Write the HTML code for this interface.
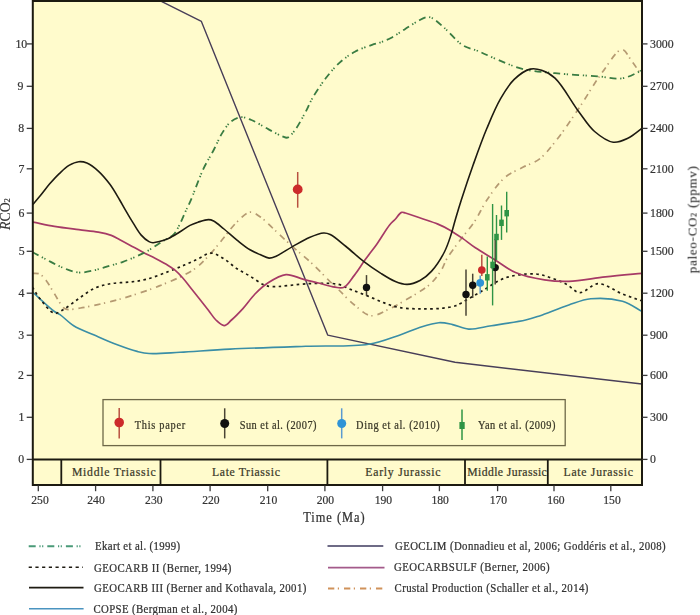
<!DOCTYPE html>
<html><head><meta charset="utf-8"><style>
html,body{margin:0;padding:0;background:#fff;width:700px;height:615px;overflow:hidden}
svg{display:block;filter:blur(0.35px)}
</style></head><body>
<svg width="700" height="615" viewBox="0 0 700 615">
<defs><clipPath id="cp"><rect x="33" y="1.7" width="608.5" height="456.8"/></clipPath></defs>
<rect x="32.2" y="0.8" width="610" height="484.2" fill="#fffbcc"/>
<g clip-path="url(#cp)" fill="none" stroke-linejoin="round">
<path d="M158.6 0.0 L201.4 21.4 L327.7 335.1 L455.0 362.3 L642.0 384.0" stroke="#483e58" stroke-width="1.4"/>
<path d="M32.4 292.0 C39.7 298.5 49.3 307.9 54.4 311.5 C56.8 313.2 57.8 313.1 60.0 314.6 C63.7 317.1 68.4 322.4 73.7 325.7 C79.7 329.4 87.3 332.0 94.3 335.1 C101.6 338.3 109.3 341.8 116.6 344.6 C123.5 347.2 131.1 349.9 137.1 351.4 C141.6 352.5 144.1 353.2 149.1 353.5 C157.0 354.0 168.5 352.9 180.0 352.3 C194.7 351.5 211.6 350.0 230.0 349.1 C252.6 348.0 281.6 347.1 305.7 346.3 C327.6 345.5 351.4 347.1 368.6 344.3 C381.0 342.3 391.0 337.9 400.0 334.9 C407.0 332.5 412.0 330.0 418.3 328.0 C424.9 325.9 432.7 323.1 438.9 322.7 C443.9 322.4 447.9 323.6 452.6 324.6 C457.8 325.7 462.8 328.7 468.6 329.1 C475.5 329.5 483.0 327.0 491.4 325.7 C501.7 324.1 516.9 322.0 525.7 320.0 C531.4 318.7 534.1 317.7 539.5 315.9 C547.5 313.2 559.7 307.9 568.8 304.9 C576.6 302.4 582.7 299.6 590.8 298.8 C600.3 297.9 613.3 298.7 622.5 301.3 C630.3 303.6 636.2 308.4 643.0 312.0" stroke="#3a8ea6" stroke-width="1.6" stroke-dasharray=""/>
<path d="M32.4 273.3 C34.9 273.6 37.6 273.0 39.8 274.1 C42.3 275.3 44.2 278.0 46.3 280.7 C49.0 284.2 51.6 289.3 54.4 293.7 C57.3 298.3 60.8 305.4 63.4 307.7 C64.7 308.8 65.3 309.1 66.9 309.4 C70.2 310.0 76.4 308.7 82.3 307.7 C90.5 306.4 102.8 303.6 111.4 301.4 C118.3 299.7 123.1 298.3 130.0 296.1 C138.7 293.3 149.2 290.0 159.3 285.9 C170.5 281.3 185.0 275.6 194.1 269.3 C201.2 264.4 205.9 258.6 211.0 253.1 C215.8 248.0 219.7 242.7 224.0 237.5 C228.3 232.3 232.4 226.3 237.0 221.9 C241.1 218.0 245.8 212.6 250.0 212.1 C253.4 211.7 256.6 214.5 260.0 216.7 C264.3 219.5 268.3 224.0 273.0 228.4 C278.9 233.8 285.9 240.7 292.5 246.6 C298.9 252.4 305.6 257.5 312.0 263.5 C318.6 269.7 326.5 278.2 331.5 283.0 C334.5 285.9 336.0 287.2 338.9 290.0 C343.1 294.1 349.0 300.6 354.5 305.0 C359.7 309.1 365.2 315.0 370.9 315.7 C376.5 316.4 382.8 311.9 388.6 309.3 C394.5 306.7 400.3 303.1 405.7 300.0 C410.7 297.1 415.6 294.4 420.0 291.4 C424.1 288.7 427.9 286.3 431.4 282.9 C435.1 279.3 438.7 274.3 441.4 270.0 C443.8 266.2 444.5 262.7 447.0 258.5 C450.3 253.0 455.5 246.4 460.0 240.3 C464.8 233.9 470.5 227.6 475.0 220.8 C479.4 214.1 482.2 206.9 486.9 200.0 C492.1 192.4 498.4 182.9 505.1 177.3 C510.7 172.5 517.4 170.2 523.3 167.1 C528.8 164.2 534.3 162.9 539.3 159.1 C545.0 154.8 549.4 148.9 555.0 142.0 C562.4 132.8 571.2 119.7 579.0 108.1 C587.0 96.3 594.7 82.4 602.5 72.0 C609.0 63.4 616.7 49.4 622.0 49.5 C625.8 49.5 628.4 56.9 631.7 61.2 C635.4 66.0 639.2 71.7 643.0 77.0" stroke="#b59a72" stroke-width="1.7" stroke-dasharray="6.3 3.5 1.3 5"/>
<path d="M32.4 287.2 C34.9 291.0 36.7 294.6 39.8 298.5 C43.7 303.3 49.7 312.3 54.4 313.2 C57.7 313.9 60.6 311.0 64.1 309.1 C68.6 306.6 73.7 302.0 78.8 298.5 C84.0 294.9 89.4 290.5 95.0 288.0 C100.2 285.7 105.6 284.6 111.3 283.6 C117.3 282.5 124.0 282.8 130.0 282.0 C135.7 281.3 140.6 280.8 146.4 279.3 C153.3 277.5 161.7 274.1 168.5 271.5 C174.4 269.3 179.8 267.0 185.0 264.8 C189.6 262.8 193.7 260.9 198.0 258.9 C202.3 257.0 206.7 253.1 211.0 253.1 C215.3 253.1 219.8 256.4 224.0 258.9 C228.5 261.5 232.6 265.8 237.0 268.7 C241.2 271.5 245.7 273.5 250.0 276.1 C254.5 278.8 259.4 282.9 263.4 284.6 C266.2 285.8 267.6 286.3 271.2 286.6 C278.9 287.3 296.7 284.1 308.3 283.7 C318.6 283.4 329.9 282.6 337.6 284.2 C342.9 285.3 346.0 287.6 350.6 289.4 C355.9 291.5 361.9 293.7 367.5 295.9 C373.1 298.2 378.9 300.9 384.3 302.9 C389.2 304.7 393.3 306.4 398.6 307.4 C405.0 308.6 412.9 308.8 420.0 308.9 C427.1 309.0 435.0 309.0 441.4 308.3 C446.7 307.8 452.1 306.9 455.7 305.7 C458.1 304.9 459.0 304.2 461.4 302.9 C465.9 300.5 473.7 295.9 480.5 292.0 C488.2 287.6 496.1 281.0 505.0 278.0 C514.1 274.9 526.1 273.5 534.6 273.9 C541.1 274.2 546.3 276.3 551.7 278.1 C556.9 279.8 561.7 281.8 566.4 284.2 C571.1 286.6 574.9 292.4 579.8 292.7 C585.3 293.0 591.5 283.9 598.1 283.7 C605.6 283.5 614.7 291.0 622.5 294.0 C629.6 296.8 636.2 298.9 643.0 301.3" stroke="#1e1b12" stroke-width="1.7" stroke-dasharray="2.6 3.4"/>
<path d="M32.9 222.2 C40.1 223.6 47.0 225.2 54.4 226.4 C62.3 227.7 71.1 228.7 78.8 229.7 C85.7 230.6 92.5 231.0 98.3 232.1 C103.1 233.0 107.5 234.0 111.3 235.4 C114.4 236.5 116.6 237.9 119.4 239.4 C122.6 241.1 125.9 242.9 129.5 244.9 C133.6 247.1 138.1 249.7 142.5 252.0 C146.8 254.3 151.2 256.2 155.5 258.5 C159.9 260.8 165.0 263.5 168.5 265.7 C171.1 267.3 172.8 268.4 175.0 270.2 C177.6 272.4 180.3 275.2 182.8 278.0 C185.3 280.8 187.0 283.3 190.0 287.0 C194.8 293.0 203.8 304.4 208.6 310.5 C211.6 314.4 213.2 317.4 215.9 320.0 C218.4 322.4 221.5 325.7 224.2 325.6 C226.7 325.5 228.9 322.3 231.5 320.0 C235.0 317.0 239.1 312.7 242.9 308.6 C247.0 304.1 250.7 298.4 255.0 294.0 C259.0 289.9 262.9 286.1 267.8 283.0 C273.1 279.6 280.0 275.1 286.0 274.6 C291.6 274.1 297.4 277.7 302.9 279.1 C308.2 280.5 313.2 281.7 318.5 283.0 C323.9 284.4 330.3 286.6 335.0 287.2 C338.5 287.6 341.2 288.5 344.1 287.2 C347.9 285.5 351.1 279.4 354.5 275.1 C358.1 270.5 361.3 265.1 364.9 260.1 C368.6 254.9 372.7 250.0 376.6 244.5 C380.9 238.4 386.0 229.4 389.6 225.0 C391.6 222.5 393.1 221.5 395.0 219.5 C397.1 217.3 399.4 213.1 401.5 212.4 C402.8 211.9 403.7 212.6 405.4 213.0 C408.9 213.8 415.7 216.4 421.0 218.2 C426.5 220.1 432.8 222.0 437.9 224.1 C442.2 225.9 445.7 227.6 449.6 229.9 C453.9 232.4 458.4 235.5 462.6 238.4 C466.8 241.3 470.3 244.4 475.0 247.5 C480.7 251.3 487.9 255.4 494.5 259.5 C501.4 263.7 507.7 269.2 515.5 272.5 C524.1 276.2 535.1 278.4 544.4 279.8 C552.8 281.1 559.9 281.6 568.8 281.3 C579.8 281.0 593.1 278.2 605.4 276.9 C617.8 275.5 630.5 274.4 643.0 273.2" stroke="#a63a66" stroke-width="1.7"/>
<path d="M32.4 252.2 C37.0 254.6 41.5 257.0 46.3 259.5 C51.5 262.2 57.0 265.4 62.5 267.6 C67.8 269.7 73.3 272.1 78.8 272.5 C84.2 272.9 89.7 271.3 95.0 270.1 C100.1 269.0 105.2 267.1 110.0 265.7 C114.5 264.4 118.7 263.3 123.0 261.8 C127.4 260.3 131.7 258.5 136.0 256.6 C140.4 254.6 144.7 252.5 149.0 250.1 C153.4 247.6 157.8 244.3 162.0 241.6 C166.0 239.1 170.6 237.6 173.7 234.5 C176.7 231.5 178.2 227.2 180.2 223.4 C182.1 219.6 183.7 215.4 185.4 211.7 C187.0 208.2 188.3 206.0 190.2 201.7 C193.6 194.0 199.0 178.2 203.4 168.9 C206.8 161.6 210.5 156.2 213.7 150.0 C216.7 144.2 219.2 137.9 222.3 132.9 C225.0 128.6 227.5 124.4 230.9 121.7 C233.9 119.3 237.6 117.4 241.1 117.1 C244.5 116.8 247.6 118.5 251.4 120.0 C256.5 122.1 263.2 126.5 268.6 129.4 C273.4 131.9 278.8 134.9 282.3 136.3 C284.4 137.1 285.7 138.1 287.4 137.7 C289.7 137.1 291.9 134.1 294.3 131.1 C298.1 126.3 303.1 116.5 306.3 110.6 C308.7 106.2 309.5 103.3 312.0 98.9 C315.4 92.9 320.9 84.5 325.7 78.3 C330.1 72.6 334.4 67.4 339.4 62.9 C344.2 58.6 349.4 54.7 354.9 51.7 C360.3 48.7 367.2 46.6 372.0 44.9 C375.3 43.7 377.6 43.4 380.6 42.3 C383.9 41.1 387.3 39.9 390.9 38.0 C395.2 35.8 400.0 32.3 404.6 29.4 C409.2 26.6 414.2 23.1 418.3 20.9 C421.4 19.2 424.4 17.4 426.9 17.1 C428.8 16.9 430.0 17.1 432.0 18.0 C435.6 19.7 441.0 24.9 445.7 29.1 C451.2 33.9 456.9 41.7 462.9 45.4 C467.9 48.5 472.9 48.9 478.3 51.1 C484.6 53.7 491.2 57.1 498.3 60.0 C506.1 63.2 514.3 66.9 523.3 69.1 C533.1 71.5 543.6 72.0 555.0 73.2 C568.3 74.6 586.2 75.4 598.5 76.4 C607.5 77.1 614.5 79.5 622.0 78.4 C629.3 77.3 636.0 72.8 643.0 70.0" stroke="#3a7c42" stroke-width="1.8" stroke-dasharray="7 3.7 1.3 1.5 1.3 4"/>
<path d="M32.9 204.5 C35.2 201.8 37.3 199.3 39.8 196.3 C42.8 192.7 46.2 188.0 49.5 184.1 C52.7 180.4 55.9 176.8 59.3 173.6 C62.5 170.6 65.6 167.4 69.0 165.4 C72.1 163.6 75.6 162.0 78.8 161.7 C81.6 161.4 84.1 161.9 86.9 163.0 C90.5 164.5 94.7 167.8 98.3 171.1 C102.3 174.7 106.2 179.4 109.7 184.1 C113.3 188.9 116.6 194.8 119.4 199.5 C121.7 203.4 123.4 206.6 125.6 210.4 C128.0 214.6 130.7 219.2 133.4 223.4 C136.0 227.4 138.4 231.9 141.2 235.1 C143.6 237.8 146.7 240.4 149.0 241.6 C150.4 242.4 151.4 242.6 152.9 242.7 C154.8 242.8 157.1 242.2 159.4 241.6 C162.2 240.9 165.4 239.8 168.5 238.4 C171.9 236.8 175.4 234.6 178.9 232.5 C182.6 230.3 186.5 227.2 190.0 225.4 C192.8 224.0 195.1 223.1 198.0 222.2 C201.2 221.2 205.5 219.6 208.4 219.6 C210.4 219.6 211.7 220.0 213.6 221.0 C216.6 222.5 220.4 226.1 224.0 229.0 C228.1 232.4 232.6 236.6 237.0 240.1 C241.3 243.5 245.8 247.3 250.0 249.8 C253.4 251.9 256.7 253.2 260.0 254.6 C263.1 255.9 266.3 257.9 269.1 258.1 C271.4 258.2 273.0 257.5 275.6 256.4 C280.0 254.6 286.8 249.8 292.5 246.6 C298.1 243.5 303.9 239.8 309.4 237.5 C314.3 235.4 319.8 233.2 323.7 233.0 C326.3 232.9 327.7 233.3 330.2 234.5 C334.5 236.5 340.6 242.2 346.0 246.5 C351.8 251.1 357.7 256.9 363.6 261.4 C369.2 265.7 375.0 269.7 380.5 273.1 C385.4 276.2 390.1 279.3 394.8 281.2 C398.9 282.9 403.0 284.5 407.1 284.4 C411.4 284.3 416.0 282.6 420.0 280.5 C424.1 278.3 427.8 275.4 431.4 271.4 C436.0 266.4 441.1 258.4 444.4 252.0 C447.3 246.3 449.0 240.9 450.9 235.1 C452.9 229.2 454.3 222.8 456.1 216.9 C457.8 211.2 459.2 206.6 461.3 200.0 C464.4 190.4 469.0 176.6 473.2 164.8 C477.5 152.7 482.1 139.7 486.9 128.3 C491.3 117.8 495.6 107.3 500.6 98.7 C504.8 91.4 508.9 84.5 514.2 79.4 C518.9 74.9 525.1 70.3 530.2 69.1 C534.1 68.2 537.8 69.0 541.6 70.3 C546.0 71.8 550.4 73.9 555.0 78.2 C562.6 85.1 571.7 102.4 579.0 112.0 C584.6 119.5 588.6 126.4 594.6 131.5 C600.1 136.2 607.2 141.4 613.2 142.2 C618.2 142.9 623.1 140.5 627.8 138.3 C633.0 135.9 637.9 131.2 643.0 127.6" stroke="#1e1b12" stroke-width="1.6"/>
</g>
<line x1="297.7" y1="172.0" x2="297.7" y2="207.7" stroke="#b85040" stroke-width="1.5"/>
<circle cx="297.7" cy="189.4" r="4.9" fill="#cc2b2b"/>
<line x1="366.5" y1="275.1" x2="366.5" y2="295.9" stroke="#4a4434" stroke-width="1.5"/>
<circle cx="366.5" cy="287.4" r="3.7" fill="#111111"/>
<line x1="466.0" y1="269.4" x2="466.0" y2="315.7" stroke="#4a4434" stroke-width="1.5"/>
<circle cx="466.0" cy="294.4" r="3.7" fill="#111111"/>
<line x1="472.7" y1="273.7" x2="472.7" y2="298.0" stroke="#4a4434" stroke-width="1.5"/>
<circle cx="472.7" cy="285.2" r="3.7" fill="#111111"/>
<line x1="481.8" y1="254.8" x2="481.8" y2="276.0" stroke="#b85040" stroke-width="1.5"/>
<circle cx="481.8" cy="270.0" r="3.8" fill="#cc2b2b"/>
<line x1="480.2" y1="275.5" x2="480.2" y2="293.8" stroke="#5a9ad0" stroke-width="1.5"/>
<circle cx="480.2" cy="282.8" r="3.9" fill="#2f93d6"/>
<line x1="487.3" y1="256.6" x2="487.3" y2="290.7" stroke="#2f9445" stroke-width="1.4"/>
<rect x="485.0" y="274.1" width="4.6" height="6.4" fill="#2f9445"/>
<line x1="495.2" y1="239.0" x2="495.2" y2="284.6" stroke="#4a4434" stroke-width="1.5"/>
<circle cx="495.2" cy="267.6" r="3.7" fill="#111111"/>
<line x1="492.6" y1="204.0" x2="492.6" y2="305.4" stroke="#2f9445" stroke-width="1.4"/>
<rect x="490.3" y="261.7" width="4.6" height="6.4" fill="#2f9445"/>
<line x1="496.5" y1="215.0" x2="496.5" y2="260.0" stroke="#2f9445" stroke-width="1.4"/>
<rect x="494.2" y="233.8" width="4.6" height="6.4" fill="#2f9445"/>
<line x1="501.5" y1="205.5" x2="501.5" y2="239.9" stroke="#2f9445" stroke-width="1.4"/>
<rect x="499.2" y="219.6" width="4.6" height="6.4" fill="#2f9445"/>
<line x1="506.7" y1="191.7" x2="506.7" y2="232.6" stroke="#2f9445" stroke-width="1.4"/>
<rect x="504.4" y="210.0" width="4.6" height="6.4" fill="#2f9445"/>
<rect x="32.8" y="1" width="609.2" height="484" fill="none" stroke="#1c1a10" stroke-width="2"/>
<line x1="32" y1="459.5" x2="642.3" y2="459.5" stroke="#1c1a10" stroke-width="2"/>
<line x1="61.3" y1="459.5" x2="61.3" y2="485" stroke="#1c1a10" stroke-width="1.8"/>
<line x1="160.5" y1="459.5" x2="160.5" y2="485" stroke="#1c1a10" stroke-width="1.8"/>
<line x1="327.4" y1="459.5" x2="327.4" y2="485" stroke="#1c1a10" stroke-width="1.8"/>
<line x1="465.0" y1="459.5" x2="465.0" y2="485" stroke="#1c1a10" stroke-width="1.8"/>
<line x1="547.8" y1="459.5" x2="547.8" y2="485" stroke="#1c1a10" stroke-width="1.8"/>
<text transform="translate(71.9 476.4) scale(0.900 1)" font-family='"Liberation Serif", serif' font-size="13" fill="#3a3828" stroke="#3a3828" stroke-width="0.25" textLength="93.0" lengthAdjust="spacing">Middle Triassic</text>
<text transform="translate(212.0 476.4) scale(0.900 1)" font-family='"Liberation Serif", serif' font-size="13" fill="#3a3828" stroke="#3a3828" stroke-width="0.25" textLength="75.4" lengthAdjust="spacing">Late Triassic</text>
<text transform="translate(365.3 476.4) scale(0.900 1)" font-family='"Liberation Serif", serif' font-size="13" fill="#3a3828" stroke="#3a3828" stroke-width="0.25" textLength="83.6" lengthAdjust="spacing">Early Jurassic</text>
<text transform="translate(467.2 476.4) scale(0.900 1)" font-family='"Liberation Serif", serif' font-size="13" fill="#3a3828" stroke="#3a3828" stroke-width="0.25" textLength="88.4" lengthAdjust="spacing">Middle Jurassic</text>
<text transform="translate(563.6 476.4) scale(0.900 1)" font-family='"Liberation Serif", serif' font-size="13" fill="#3a3828" stroke="#3a3828" stroke-width="0.25" textLength="77.0" lengthAdjust="spacing">Late Jurassic</text>
<line x1="26.7" y1="459.4" x2="32" y2="459.4" stroke="#3a3a3a" stroke-width="1.3"/>
<text transform="translate(18.3 463.4) scale(1.000 1)" font-family='"Liberation Serif", serif' font-size="11.8" fill="#333333" stroke="#333333" stroke-width="0.2">0</text>
<line x1="642.3" y1="459.4" x2="647.5" y2="459.4" stroke="#3a3a3a" stroke-width="1.3"/>
<text transform="translate(650.0 463.4) scale(1.000 1)" font-family='"Liberation Serif", serif' font-size="11.8" fill="#333333" stroke="#333333" stroke-width="0.2">0</text>
<line x1="26.7" y1="417.3" x2="32" y2="417.3" stroke="#3a3a3a" stroke-width="1.3"/>
<text transform="translate(18.5 421.3) scale(1.000 1)" font-family='"Liberation Serif", serif' font-size="11.8" fill="#333333" stroke="#333333" stroke-width="0.2">1</text>
<line x1="642.3" y1="417.3" x2="647.5" y2="417.3" stroke="#3a3a3a" stroke-width="1.3"/>
<text transform="translate(650.0 421.3) scale(1.000 1)" font-family='"Liberation Serif", serif' font-size="11.8" fill="#333333" stroke="#333333" stroke-width="0.2">300</text>
<line x1="26.7" y1="375.4" x2="32" y2="375.4" stroke="#3a3a3a" stroke-width="1.3"/>
<text transform="translate(18.0 379.4) scale(1.000 1)" font-family='"Liberation Serif", serif' font-size="11.8" fill="#333333" stroke="#333333" stroke-width="0.2">2</text>
<line x1="642.3" y1="375.4" x2="647.5" y2="375.4" stroke="#3a3a3a" stroke-width="1.3"/>
<text transform="translate(650.0 379.4) scale(1.000 1)" font-family='"Liberation Serif", serif' font-size="11.8" fill="#333333" stroke="#333333" stroke-width="0.2">600</text>
<line x1="26.7" y1="335.2" x2="32" y2="335.2" stroke="#3a3a3a" stroke-width="1.3"/>
<text transform="translate(18.3 339.2) scale(1.000 1)" font-family='"Liberation Serif", serif' font-size="11.8" fill="#333333" stroke="#333333" stroke-width="0.2">3</text>
<line x1="642.3" y1="335.2" x2="647.5" y2="335.2" stroke="#3a3a3a" stroke-width="1.3"/>
<text transform="translate(650.0 339.2) scale(1.000 1)" font-family='"Liberation Serif", serif' font-size="11.8" fill="#333333" stroke="#333333" stroke-width="0.2">900</text>
<line x1="26.7" y1="293.2" x2="32" y2="293.2" stroke="#3a3a3a" stroke-width="1.3"/>
<text transform="translate(18.5 297.2) scale(1.000 1)" font-family='"Liberation Serif", serif' font-size="11.8" fill="#333333" stroke="#333333" stroke-width="0.2">4</text>
<line x1="642.3" y1="293.2" x2="647.5" y2="293.2" stroke="#3a3a3a" stroke-width="1.3"/>
<text transform="translate(650.0 297.2) scale(1.000 1)" font-family='"Liberation Serif", serif' font-size="11.8" fill="#333333" stroke="#333333" stroke-width="0.2">1200</text>
<line x1="26.7" y1="251.3" x2="32" y2="251.3" stroke="#3a3a3a" stroke-width="1.3"/>
<text transform="translate(18.8 255.3) scale(1.000 1)" font-family='"Liberation Serif", serif' font-size="11.8" fill="#333333" stroke="#333333" stroke-width="0.2">5</text>
<line x1="642.3" y1="251.3" x2="647.5" y2="251.3" stroke="#3a3a3a" stroke-width="1.3"/>
<text transform="translate(650.0 255.3) scale(1.000 1)" font-family='"Liberation Serif", serif' font-size="11.8" fill="#333333" stroke="#333333" stroke-width="0.2">1500</text>
<line x1="26.7" y1="213.1" x2="32" y2="213.1" stroke="#3a3a3a" stroke-width="1.3"/>
<text transform="translate(18.5 217.1) scale(1.000 1)" font-family='"Liberation Serif", serif' font-size="11.8" fill="#333333" stroke="#333333" stroke-width="0.2">6</text>
<line x1="642.3" y1="213.1" x2="647.5" y2="213.1" stroke="#3a3a3a" stroke-width="1.3"/>
<text transform="translate(650.0 217.1) scale(1.000 1)" font-family='"Liberation Serif", serif' font-size="11.8" fill="#333333" stroke="#333333" stroke-width="0.2">1800</text>
<line x1="26.7" y1="168.8" x2="32" y2="168.8" stroke="#3a3a3a" stroke-width="1.3"/>
<text transform="translate(18.5 172.8) scale(1.000 1)" font-family='"Liberation Serif", serif' font-size="11.8" fill="#333333" stroke="#333333" stroke-width="0.2">7</text>
<line x1="642.3" y1="168.8" x2="647.5" y2="168.8" stroke="#3a3a3a" stroke-width="1.3"/>
<text transform="translate(650.0 172.8) scale(1.000 1)" font-family='"Liberation Serif", serif' font-size="11.8" fill="#333333" stroke="#333333" stroke-width="0.2">2100</text>
<line x1="26.7" y1="128.4" x2="32" y2="128.4" stroke="#3a3a3a" stroke-width="1.3"/>
<text transform="translate(18.3 132.4) scale(1.000 1)" font-family='"Liberation Serif", serif' font-size="11.8" fill="#333333" stroke="#333333" stroke-width="0.2">8</text>
<line x1="642.3" y1="128.4" x2="647.5" y2="128.4" stroke="#3a3a3a" stroke-width="1.3"/>
<text transform="translate(650.0 132.4) scale(1.000 1)" font-family='"Liberation Serif", serif' font-size="11.8" fill="#333333" stroke="#333333" stroke-width="0.2">2400</text>
<line x1="26.7" y1="86.3" x2="32" y2="86.3" stroke="#3a3a3a" stroke-width="1.3"/>
<text transform="translate(17.5 90.3) scale(1.000 1)" font-family='"Liberation Serif", serif' font-size="11.8" fill="#333333" stroke="#333333" stroke-width="0.2">9</text>
<line x1="642.3" y1="86.3" x2="647.5" y2="86.3" stroke="#3a3a3a" stroke-width="1.3"/>
<text transform="translate(650.0 90.3) scale(1.000 1)" font-family='"Liberation Serif", serif' font-size="11.8" fill="#333333" stroke="#333333" stroke-width="0.2">2700</text>
<line x1="26.7" y1="43.9" x2="32" y2="43.9" stroke="#3a3a3a" stroke-width="1.3"/>
<text transform="translate(15.4 47.9) scale(1.000 1)" font-family='"Liberation Serif", serif' font-size="11.8" fill="#333333" stroke="#333333" stroke-width="0.2">10</text>
<line x1="642.3" y1="43.9" x2="647.5" y2="43.9" stroke="#3a3a3a" stroke-width="1.3"/>
<text transform="translate(650.0 47.9) scale(1.000 1)" font-family='"Liberation Serif", serif' font-size="11.8" fill="#333333" stroke="#333333" stroke-width="0.2">3000</text>
<line x1="38.3" y1="485.5" x2="38.3" y2="491.2" stroke="#3a3a3a" stroke-width="1.3"/>
<text x="40.0" y="503.5" font-family='"Liberation Serif", serif' font-size="11.6" fill="#333333" stroke="#333" stroke-width="0.2" text-anchor="middle">250</text>
<line x1="95.6" y1="485.5" x2="95.6" y2="491.2" stroke="#3a3a3a" stroke-width="1.3"/>
<text x="96.0" y="503.5" font-family='"Liberation Serif", serif' font-size="11.6" fill="#333333" stroke="#333" stroke-width="0.2" text-anchor="middle">240</text>
<line x1="152.9" y1="485.5" x2="152.9" y2="491.2" stroke="#3a3a3a" stroke-width="1.3"/>
<text x="153.8" y="503.5" font-family='"Liberation Serif", serif' font-size="11.6" fill="#333333" stroke="#333" stroke-width="0.2" text-anchor="middle">230</text>
<line x1="210.1" y1="485.5" x2="210.1" y2="491.2" stroke="#3a3a3a" stroke-width="1.3"/>
<text x="210.9" y="503.5" font-family='"Liberation Serif", serif' font-size="11.6" fill="#333333" stroke="#333" stroke-width="0.2" text-anchor="middle">220</text>
<line x1="267.7" y1="485.5" x2="267.7" y2="491.2" stroke="#3a3a3a" stroke-width="1.3"/>
<text x="268.5" y="503.5" font-family='"Liberation Serif", serif' font-size="11.6" fill="#333333" stroke="#333" stroke-width="0.2" text-anchor="middle">210</text>
<line x1="324.9" y1="485.5" x2="324.9" y2="491.2" stroke="#3a3a3a" stroke-width="1.3"/>
<text x="325.4" y="503.5" font-family='"Liberation Serif", serif' font-size="11.6" fill="#333333" stroke="#333" stroke-width="0.2" text-anchor="middle">200</text>
<line x1="382.6" y1="485.5" x2="382.6" y2="491.2" stroke="#3a3a3a" stroke-width="1.3"/>
<text x="383.4" y="503.5" font-family='"Liberation Serif", serif' font-size="11.6" fill="#333333" stroke="#333" stroke-width="0.2" text-anchor="middle">190</text>
<line x1="439.4" y1="485.5" x2="439.4" y2="491.2" stroke="#3a3a3a" stroke-width="1.3"/>
<text x="440.1" y="503.5" font-family='"Liberation Serif", serif' font-size="11.6" fill="#333333" stroke="#333" stroke-width="0.2" text-anchor="middle">180</text>
<line x1="497.6" y1="485.5" x2="497.6" y2="491.2" stroke="#3a3a3a" stroke-width="1.3"/>
<text x="498.4" y="503.5" font-family='"Liberation Serif", serif' font-size="11.6" fill="#333333" stroke="#333" stroke-width="0.2" text-anchor="middle">170</text>
<line x1="554.0" y1="485.5" x2="554.0" y2="491.2" stroke="#3a3a3a" stroke-width="1.3"/>
<text x="555.9" y="503.5" font-family='"Liberation Serif", serif' font-size="11.6" fill="#333333" stroke="#333" stroke-width="0.2" text-anchor="middle">160</text>
<line x1="610.8" y1="485.5" x2="610.8" y2="491.2" stroke="#3a3a3a" stroke-width="1.3"/>
<text x="612.0" y="503.5" font-family='"Liberation Serif", serif' font-size="11.6" fill="#333333" stroke="#333" stroke-width="0.2" text-anchor="middle">150</text>
<text transform="translate(303.2 522.0) scale(0.900 1)" font-family='"Liberation Serif", serif' font-size="13.8" fill="#333333" stroke="#333333" stroke-width="0.25" textLength="68.3" lengthAdjust="spacing">Time (Ma)</text>
<text transform="translate(10 230) rotate(-90)" font-family='"Liberation Serif", serif' font-size="13.8" fill="#333333" stroke="#333333" stroke-width="0.15"><tspan font-style="italic">R</tspan>CO<tspan font-size="8.5">2</tspan></text>
<text transform="translate(696.6 273.2) rotate(-90)" font-family='"Liberation Serif", serif' font-size="12.8" fill="#333333" stroke="#333333" stroke-width="0.15" textLength="107" lengthAdjust="spacing">paleo-CO<tspan font-size="8">2</tspan> (ppmv)</text>
<rect x="103" y="399.6" width="462.2" height="46" fill="none" stroke="#6e6848" stroke-width="1.3"/>
<line x1="119.2" y1="408.0" x2="119.2" y2="438.6" stroke="#b85040" stroke-width="1.5"/>
<circle cx="119.2" cy="422.5" r="4.8" fill="#cc2b2b"/>
<line x1="224.7" y1="408.3" x2="224.7" y2="438.4" stroke="#4a4434" stroke-width="1.5"/>
<circle cx="224.7" cy="423.5" r="4.5" fill="#111111"/>
<line x1="341.7" y1="408.3" x2="341.7" y2="438.4" stroke="#5a9ad0" stroke-width="1.5"/>
<circle cx="341.7" cy="423.5" r="4.5" fill="#2f93d6"/>
<line x1="462.0" y1="409.6" x2="462.0" y2="439.9" stroke="#2f9445" stroke-width="1.5"/>
<rect x="459.4" y="422" width="5.3" height="7" fill="#2f9445"/>
<text transform="translate(134.7 428.5) scale(0.900 1)" font-family='"Liberation Serif", serif' font-size="11.5" fill="#3a3828" stroke="#3a3828" stroke-width="0.25" textLength="56.2" lengthAdjust="spacing">This paper</text>
<text transform="translate(239.7 428.5) scale(0.900 1)" font-family='"Liberation Serif", serif' font-size="11.5" fill="#3a3828" stroke="#3a3828" stroke-width="0.25" textLength="85.4" lengthAdjust="spacing">Sun et al. (2007)</text>
<text transform="translate(356.1 428.5) scale(0.900 1)" font-family='"Liberation Serif", serif' font-size="11.5" fill="#3a3828" stroke="#3a3828" stroke-width="0.25" textLength="93.0" lengthAdjust="spacing">Ding et al. (2010)</text>
<text transform="translate(478.0 428.5) scale(0.900 1)" font-family='"Liberation Serif", serif' font-size="11.5" fill="#3a3828" stroke="#3a3828" stroke-width="0.25" textLength="86.0" lengthAdjust="spacing">Yan et al. (2009)</text>
<line x1="28.7" y1="546.2" x2="83.0" y2="546.2" stroke="#4a9a78" stroke-width="2" stroke-dasharray="7 3.7 1.2 1.5 1.2 4"/>
<text transform="translate(95.1 549.6) scale(0.900 1)" font-family='"Liberation Serif", serif' font-size="12" fill="#333333" stroke="#333333" stroke-width="0.25" textLength="94.4" lengthAdjust="spacing">Ekart et al. (1999)</text>
<line x1="28.7" y1="567.2" x2="83.0" y2="567.2" stroke="#1e1b12" stroke-width="1.5" stroke-dasharray="3.2 3.5"/>
<text transform="translate(94.0 572.0) scale(0.900 1)" font-family='"Liberation Serif", serif' font-size="12" fill="#333333" stroke="#333333" stroke-width="0.25" textLength="152.7" lengthAdjust="spacing">GEOCARB II (Berner, 1994)</text>
<line x1="29.0" y1="587.6" x2="83.5" y2="587.6" stroke="#1e1b12" stroke-width="1.7" stroke-dasharray=""/>
<text transform="translate(94.0 592.1) scale(0.900 1)" font-family='"Liberation Serif", serif' font-size="12" fill="#333333" stroke="#333333" stroke-width="0.25" textLength="235.9" lengthAdjust="spacing">GEOCARB III (Berner and Kothavala, 2001)</text>
<line x1="29.0" y1="608.7" x2="83.6" y2="608.7" stroke="#4a94c0" stroke-width="1.6" stroke-dasharray=""/>
<text transform="translate(93.4 612.5) scale(0.900 1)" font-family='"Liberation Serif", serif' font-size="12" fill="#333333" stroke="#333333" stroke-width="0.25" textLength="159.9" lengthAdjust="spacing">COPSE (Bergman et al., 2004)</text>
<line x1="327.5" y1="546.0" x2="383.3" y2="546.0" stroke="#3e3a5e" stroke-width="1.7" stroke-dasharray=""/>
<text transform="translate(395.0 549.5) scale(0.900 1)" font-family='"Liberation Serif", serif' font-size="12" fill="#333333" stroke="#333333" stroke-width="0.25" textLength="300.7" lengthAdjust="spacing">GEOCLIM (Donnadieu et al, 2006; Godd&#233;ris et al., 2008)</text>
<line x1="328.0" y1="567.7" x2="384.5" y2="567.7" stroke="#a35a8a" stroke-width="1.7" stroke-dasharray=""/>
<text transform="translate(393.9 571.3) scale(0.900 1)" font-family='"Liberation Serif", serif' font-size="12" fill="#333333" stroke="#333333" stroke-width="0.25" textLength="172.9" lengthAdjust="spacing">GEOCARBSULF (Berner, 2006)</text>
<line x1="328.0" y1="588.5" x2="384.0" y2="588.5" stroke="#d0925a" stroke-width="2" stroke-dasharray="6.3 3.5 1.2 5"/>
<text transform="translate(394.6 592.2) scale(0.900 1)" font-family='"Liberation Serif", serif' font-size="12" fill="#333333" stroke="#333333" stroke-width="0.25" textLength="215.3" lengthAdjust="spacing">Crustal Production (Schaller et al., 2014)</text>
</svg>
</body></html>
